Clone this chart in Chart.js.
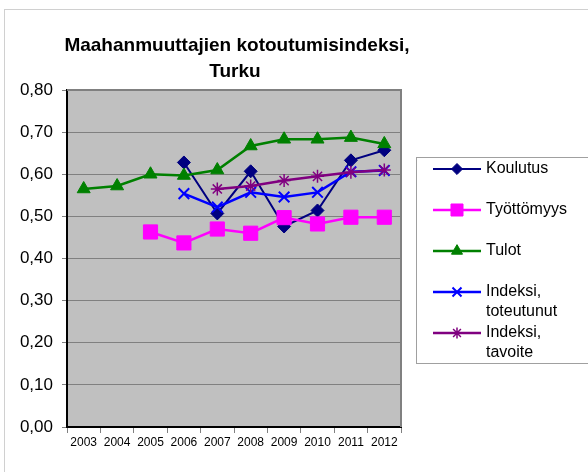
<!DOCTYPE html>
<html>
<head>
<meta charset="utf-8">
<script src="https://cdn.jsdelivr.net/npm/chart.js@4/dist/chart.umd.min.js"></script>
<style>
  body { margin: 0; background: #fff; }
  canvas { display: block; }
</style>
</head>
<body>
<canvas id="chart" width="588" height="472"></canvas>
<script>
const years = ['2003', '2004', '2005', '2006', '2007', '2008', '2009', '2010', '2011', '2012'];
const yTicks = [0, 0.1, 0.2, 0.3, 0.4, 0.5, 0.6, 0.7, 0.8];

const koulutus = [null, null, null, 0.628, 0.507, 0.607, 0.476, 0.514, 0.633, 0.657];
const tyottomyys = [null, null, 0.463, 0.437, 0.470, 0.460, 0.497, 0.482, 0.498, 0.498];
const tulot = [0.565, 0.572, 0.600, 0.597, 0.610, 0.667, 0.683, 0.683, 0.687, 0.672];
const toteutunut = [null, null, null, 0.554, 0.522, 0.557, 0.546, 0.557, 0.606, 0.609];
const tavoite = [null, null, null, null, 0.565, 0.572, 0.585, 0.595, 0.605, 0.610];

const legendLabels = [['Koulutus'], ['Työttömyys'], ['Tulot'], ['Indeksi,', 'toteutunut'], ['Indeksi,', 'tavoite']];

const FONT = "'Liberation Sans', Arial, sans-serif";

function series(label, data, color, style, radius, lineWidth, pointBorder, order) {
    return {
        label, data, order,
        borderColor: color,
        backgroundColor: color,
        pointStyle: style,
        pointRadius: radius,
        pointHoverRadius: radius,
        pointBorderWidth: pointBorder,
        pointBackgroundColor: color,
        pointBorderColor: color,
        borderWidth: lineWidth,
        tension: 0,
        spanGaps: false
    };
}

// background, frame, plot area
const framePlugin = {
    id: 'frame',
    beforeDraw(chart) {
        const { ctx, chartArea: a } = chart;
        ctx.save();
        ctx.fillStyle = '#fff';
        ctx.fillRect(0, 0, chart.width, chart.height);
        ctx.strokeStyle = '#d0d0d0';
        ctx.lineWidth = 1;
        ctx.strokeRect(4.5, 9.5, chart.width + 10, chart.height + 10);
        ctx.fillStyle = '#c0c0c0';
        ctx.fillRect(a.left, a.top, a.right - a.left, a.bottom - a.top);
        ctx.restore();
    },
    beforeDatasetsDraw(chart) {
        const { ctx, chartArea: a } = chart;
        ctx.save();
        ctx.strokeStyle = '#808080';
        ctx.lineWidth = 2;
        ctx.beginPath();
        ctx.moveTo(a.left, a.top);
        ctx.lineTo(a.right, a.top);
        ctx.lineTo(a.right, a.bottom);
        ctx.stroke();
        ctx.restore();
    },
    afterDraw(chart) {
        const ctx = chart.ctx;
        ctx.save();
        // title
        ctx.fillStyle = '#000';
        ctx.font = 'bold 19px ' + FONT;
        ctx.textAlign = 'center';
        ctx.textBaseline = 'alphabetic';
        ctx.fillText('Maahanmuuttajien kotoutumisindeksi,', 237, 51);
        ctx.fillText('Turku', 235, 77);

        // legend
        ctx.strokeStyle = '#a0a0a0';
        ctx.lineWidth = 1;
        ctx.strokeRect(416.5, 157.5, 200, 206);
        const rows = [169, 210, 251, 292, 333];
        ctx.font = '16px ' + FONT;
        ctx.textAlign = 'left';
        ctx.textBaseline = 'middle';
        chart.data.datasets.forEach((ds, i) => {
            const y = rows[i];
            ctx.strokeStyle = ds.borderColor;
            ctx.lineWidth = ds.borderWidth;
            ctx.beginPath();
            ctx.moveTo(433, y);
            ctx.lineTo(481, y);
            ctx.stroke();
            ctx.fillStyle = ds.pointBackgroundColor;
            ctx.strokeStyle = ds.pointBorderColor;
            ctx.lineWidth = ds.pointBorderWidth;
            Chart.helpers.drawPoint(ctx, { pointStyle: ds.pointStyle, radius: ds.pointRadius * 0.85, rotation: 0, borderWidth: ds.pointBorderWidth }, 457, y);
            ctx.fillStyle = '#000';
            legendLabels[i].forEach((t, k) => ctx.fillText(t, 486, y + k * 20));
        });
        ctx.restore();
    }
};

new Chart(document.getElementById('chart'), {
    type: 'line',
    data: {
        labels: years,
        datasets: [
            series('Koulutus', koulutus, '#000080', 'rectRot', 6.5, 2, 1, 5),
            series('Työttömyys', tyottomyys, '#ff00ff', 'rect', 10, 2.5, 1, 4),
            series('Tulot', tulot, '#008000', 'triangle', 7.5, 2.5, 1, 3),
            series('Indeksi, toteutunut', toteutunut, '#0000ff', 'crossRot', 7.5, 2.5, 2, 2),
            series('Indeksi, tavoite', tavoite, '#800080', 'star', 6.5, 2.5, 1.5, 1)
        ]
    },
    options: {
        responsive: false,
        animation: false,
        layout: { padding: { top: 90, right: 187, left: 0, bottom: 0 } },
        plugins: {
            legend: { display: false },
            title: { display: false },
            tooltip: { enabled: false }
        },
        scales: {
            x: {
                offset: true,
                grid: { offset: true, drawOnChartArea: false, tickLength: 6, color: '#808080' },
                border: { color: '#000', width: 2 },
                ticks: { color: '#000', font: { family: FONT, size: 12 }, padding: 2, maxRotation: 0 },
                afterFit(s) { s.height = 45; }
            },
            y: {
                min: 0,
                max: 0.8,
                afterBuildTicks(s) { s.ticks = yTicks.map(v => ({ value: v })); },
                grid: { color: '#808080', tickLength: 5, lineWidth: 1 },
                border: { color: '#000', width: 2 },
                ticks: {
                    color: '#000',
                    font: { family: FONT, size: 17 },
                    padding: 9,
                    callback: v => v.toFixed(2).replace('.', ',')
                },
                afterFit(s) { s.width = 67; }
            }
        }
    },
    plugins: [framePlugin]
});
</script>
</body>
</html>
